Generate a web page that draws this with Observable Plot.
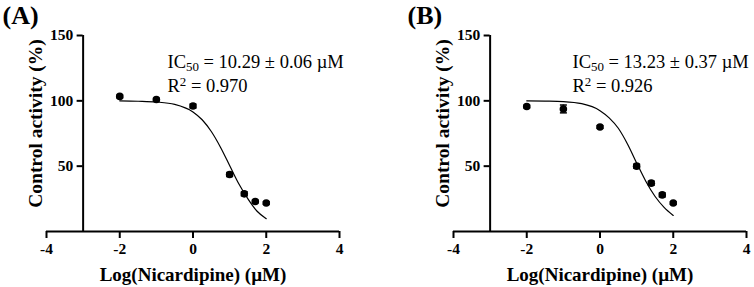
<!DOCTYPE html>
<html>
<head>
<meta charset="utf-8">
<script src="https://cdn.jsdelivr.net/npm/d3@7"></script>
<script src="https://cdn.jsdelivr.net/npm/@observablehq/plot@0.6"></script>
<style>
  html, body { margin: 0; padding: 0; background: #fff; }
  #wrap { display: flex; width: 754px; height: 287px; }
</style>
</head>
<body>
<div id="wrap"></div>
<script>
// ---- data ----
const logConc = [-2, -1, 0, 1, 1.4, 1.7, 2];            // Log(Nicardipine) (µM)
const activityA = [103.4, 101.0, 96.0, 43.6, 28.8, 23.0, 21.8];
const errorA    = [1.0, 1.0, 1.5, 1.5, 1.5, 1.0, 1.0];
const activityB = [95.7, 93.8, 80.0, 50.0, 37.0, 28.0, 21.8];
const errorB    = [1.0, 3.0, 1.0, 1.5, 1.5, 1.5, 1.0];

const fitX      = [-2, -1.5, -1, -0.5, 0, 0.25, 0.5, 0.75, 1, 1.25, 1.5, 1.75, 2];
const fitA      = [100, 99.7, 99.1, 97.3, 91.5, 85.5, 76.5, 64.5, 50.5, 36.5, 25, 15.5, 9.8];
const fitB      = [100, 99.8, 99.4, 97.8, 92.5, 87, 79, 67, 52.5, 38.5, 27, 18.5, 12.3];

const xTicks = [-4, -2, 0, 2, 4];
const xTickLabels = ["-4", "-2", "0", "2", "4"];
const yTicks = [50, 100, 150];
const yTickLabels = ["50", "100", "150"];

const panelLabels = ["(A)", "(B)"];
const ic50Text = ["IC50 = 10.29 ± 0.06 µM", "IC50 = 13.23 ± 0.37 µM"];
const r2Text = ["R2 = 0.970", "R2 = 0.926"];
const xTitle = "Log(Nicardipine) (µM)";
const yTitle = "Control activity (%)";
const yAxisAt = -3;

const capSymbol = {
  draw(ctx, size) {
    const w = Math.sqrt(size / Math.PI);
    ctx.moveTo(-w, 0);
    ctx.lineTo(w, 0);
  }
};

function panel(i, values, errors, fit, layout) {
  const pts = logConc.map((x, k) => ({x, y: values[k], e: errors[k]}));
  const curve = fitX.map((x, k) => ({x, y: fit[k]}));
  const serif = "Liberation Serif, Times New Roman, serif";
  const svg = Plot.plot({
    width: 377,
    height: 287,
    marginLeft: layout.ml,
    marginRight: layout.mr,
    marginTop: 35,
    marginBottom: 56,
    style: {fontFamily: serif, fontSize: "15px", fontWeight: "bold", color: "#000", background: "#fff"},
    x: {domain: [-4, 4]},
    y: {domain: [0, 150]},
    marks: [
      Plot.ruleY([0], {x1: -4, x2: 4, strokeWidth: 2}),
      Plot.ruleX([yAxisAt], {y1: 0, y2: 150, strokeWidth: 2}),
      Plot.axisX({ticks: xTicks, tickFormat: d => xTickLabels[xTicks.indexOf(d)], tickSize: 7, tickPadding: 4, strokeWidth: 2, label: null, fontSize: 15.5, fontWeight: "bold"}),
      Plot.axisY({x: yAxisAt, ticks: yTicks, tickFormat: d => yTickLabels[yTicks.indexOf(d)], tickSize: 6, tickPadding: 4, strokeWidth: 2, label: null, fontSize: 15.5, fontWeight: "bold"}),
      Plot.line(curve, {x: "x", y: "y", curve: "monotone-x", stroke: "#000", strokeWidth: 1.2}),
      Plot.ruleX(pts, {x: "x", y1: d => d.y - d.e, y2: d => d.y + d.e, stroke: "#000", strokeWidth: 1.5}),
      Plot.dot(pts, {x: "x", y: d => d.y - d.e, symbol: capSymbol, r: 3.5, stroke: "#000", strokeWidth: 1.5, fill: "none"}),
      Plot.dot(pts, {x: "x", y: d => d.y + d.e, symbol: capSymbol, r: 3.5, stroke: "#000", strokeWidth: 1.5, fill: "none"}),
      Plot.dot(pts, {x: "x", y: "y", r: 3.8, fill: "#000", stroke: "none"}),
      Plot.text([xTitle], {text: d => d, frameAnchor: "bottom", textAnchor: "middle", lineAnchor: "bottom", dy: 49, fontSize: 19, fontWeight: "bold"}),
      Plot.text([yTitle], {text: d => d, frameAnchor: "left", textAnchor: "middle", rotate: -90, lineAnchor: "bottom", dx: layout.ydx, dy: -10, fontSize: 19.5, fontWeight: "bold"}),
      Plot.text([panelLabels[i]], {text: d => d, frameAnchor: "top-left", textAnchor: "start", lineAnchor: "bottom", dx: layout.pdx, dy: -12, fontSize: 26, fontWeight: "bold"}),
      Plot.text([ic50Text[i]], {text: d => d, frameAnchor: "top-left", textAnchor: "start", lineAnchor: "bottom", dx: layout.adx, dy: 32, fontSize: 18.5, fontWeight: "normal", className: "ann-ic"}),
      Plot.text([r2Text[i]], {text: d => d, frameAnchor: "top-left", textAnchor: "start", lineAnchor: "bottom", dx: layout.adx, dy: 56, fontSize: 18.5, fontWeight: "normal", className: "ann-r2"})
    ]
  });
  // subscripts / superscripts as real text
  d3.select(svg).selectAll(".ann-ic text").each(function () {
    const t = this.textContent;
    const m = t.match(/^IC50(.*)$/);
    if (!m) return;
    const sel = d3.select(this);
    sel.text("");
    sel.append("tspan").text("IC");
    sel.append("tspan").attr("dy", "0.3em").attr("font-size", "0.7em").text("50");
    sel.append("tspan").attr("dy", "-0.21em").text(m[1]);
  });
  d3.select(svg).selectAll(".ann-r2 text").each(function () {
    const t = this.textContent;
    const m = t.match(/^R2(.*)$/);
    if (!m) return;
    const sel = d3.select(this);
    sel.text("");
    sel.append("tspan").text("R");
    sel.append("tspan").attr("dy", "-0.45em").attr("font-size", "0.7em").text("2");
    sel.append("tspan").attr("dy", "0.315em").text(m[1]);
  });
  return svg;
}

const wrap = document.getElementById("wrap");
wrap.appendChild(panel(0, activityA, errorA, fitA, {ml: 46, mr: 38, ydx: -5, pdx: -44, adx: 121}));
wrap.appendChild(panel(1, activityB, errorB, fitB, {ml: 76, mr: 8, ydx: -5, pdx: -46, adx: 119}));
</script>
</body>
</html>
